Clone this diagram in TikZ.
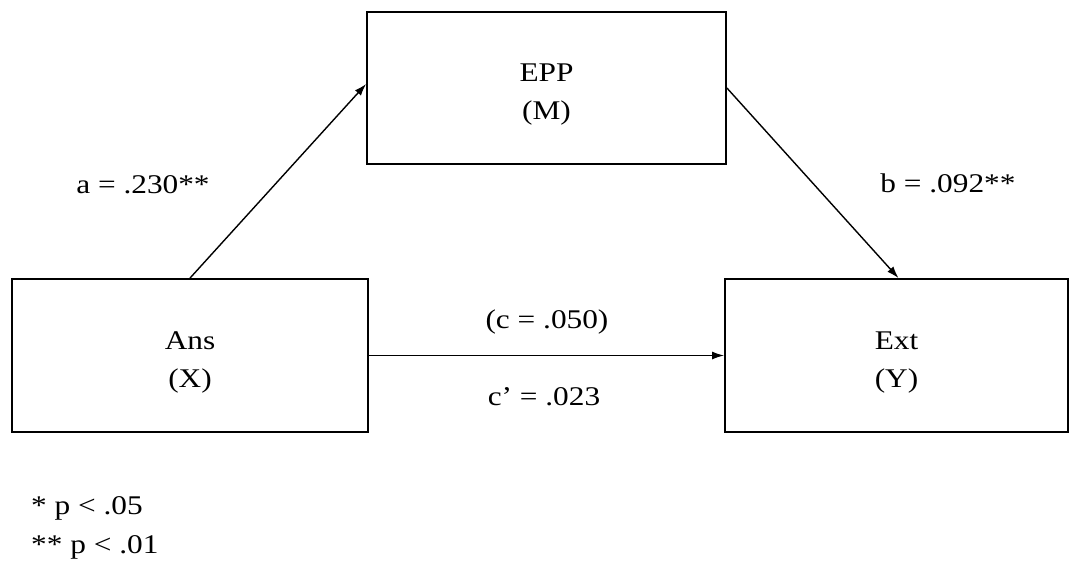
\documentclass[tikz,border=0pt]{standalone}
\usepackage{fontspec}
\setmainfont[FakeStretch=1.16]{Liberation Serif}
\usetikzlibrary{arrows.meta}
\begin{document}
\begin{tikzpicture}[x=1pt,y=-1pt,
  every node/.style={font=\fontsize{27}{38}\selectfont, inner sep=0pt},
  varbox/.style={draw, line width=1.8pt, align=center, minimum height=153pt},
  boxtext/.style={align=center, yshift=-7pt},
  path/.style={draw, line width=1.4pt, -{Latex[length=12pt,width=8pt]}},
  lbl/.style={anchor=center}]
\useasboundingbox (0,0) rectangle (1071,562);
\node[varbox, minimum width=356pt, label={[boxtext]center:Ans\\(X)}] (ans) at (190,355.5) {};
\node[varbox, minimum width=359pt, minimum height=152pt, label={[boxtext]center:EPP\\(M)}] (epp) at (546.5,88) {};
\node[varbox, minimum width=343pt, label={[boxtext]center:Ext\\(Y)}] (ext) at (896.5,355.5) {};
\draw[path] (ans.north) -- ([yshift=4pt]epp.west);
\draw[path] (epp.east) -- ([xshift=2pt]ext.north);
\draw[path] (ans.east) -- (ext.west);
\node[lbl] (la) at (143,185) {a = .230**};
\node[lbl] (lb) at (948,183) {b = .092**};
\node[lbl] (lc) at (547,322) {(c = .050)};
\node[lbl] (lcp) at (544,397) {c’ = .023};
\node[anchor=west] (n1) at (31,508) {* p < .05};
\node[anchor=west] (n2) at (31,547) {** p < .01};
\end{tikzpicture}
\end{document}
